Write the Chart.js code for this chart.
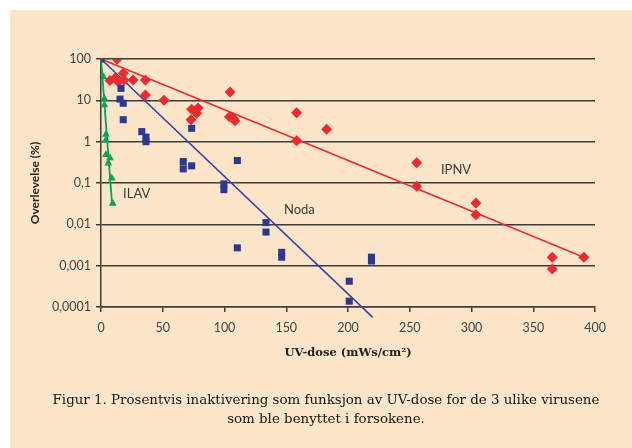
<!DOCTYPE html>
<html><head><meta charset="utf-8">
<script src="https://cdn.jsdelivr.net/npm/chart.js@4/dist/chart.umd.min.js"></script>
<style>
html,body{margin:0;padding:0;background:#fff;width:632px;height:448px;overflow:hidden}
#bg{position:absolute;left:10px;top:10px;width:622px;height:438px;background:#fde5ca}
#wrap{position:absolute;left:0;top:0;width:632px;height:448px}
#cap{position:absolute;left:0px;width:652px;top:390px;text-align:center;font-family:"DejaVu Serif",serif;font-size:13.4px;line-height:19px;color:#151515;white-space:nowrap}
</style></head><body>
<div id="bg"></div>
<div id="wrap"><canvas id="c" width="632" height="448"></canvas></div>
<div id="cap">Figur 1. Prosentvis inaktivering som funksjon av UV-dose for de 3 ulike virusene<br>som ble benyttet i forsokene.</div>
<script>
// ---- data ----
const ipnvDose = [13, 7.3, 11.3, 14, 18, 18.6, 26, 36, 36, 51, 73.4, 78.6, 77.5, 72.9, 104.5, 104, 108.5, 107, 158.4, 158.4, 182.7, 255.6, 255.6, 303.6, 303.6, 365.4, 365.4, 391];
const ipnvSurv = [98, 30, 34, 28, 45, 31, 31, 31, 13.5, 10, 6.1, 6.5, 4.9, 3.4, 16, 4.0, 3.2, 3.7, 5.0, 1.05, 2.0, 0.31, 0.083, 0.033, 0.017, 0.0016, 0.00083, 0.0016];
const nodaDose = [0, 16.2, 15.4, 18, 18, 33, 36.4, 36.4, 73.4, 66.6, 66.6, 73.4, 99.5, 99.5, 110.4, 133.6, 133.6, 110.4, 146.3, 146.3, 201, 201, 219, 219];
const nodaSurv = [100, 19.5, 10.7, 8.5, 3.4, 1.75, 1.29, 1.0, 2.1, 0.33, 0.22, 0.26, 0.095, 0.069, 0.35, 0.011, 0.0065, 0.0027, 0.0021, 0.0016, 0.00042, 0.000138, 0.0016, 0.0013];
const ilavDose = [0, 1.9, 2.7, 2.7, 4, 4, 4, 7.3, 5.9, 8.7, 9.5];
const ilavSurv = [100, 37, 11, 7.7, 1.5, 1.1, 0.48, 0.4, 0.3, 0.13, 0.032];
// trend lines (start / end)
const ipnvFitDose = [0, 391];
const ipnvFitSurv = [100, 0.0016];
const nodaFitDose = [0, 220];
const nodaFitSurv = [100, 0.000056];
const ilavFitDose = [0, 9];
const ilavFitSurv = [100, 0.03];
// labels
const seriesNames = ["IPNV", "Noda", "ILAV"];
const labelDose = [287.5, 160.6, 28.9];
const labelSurv = [0.21, 0.0225, 0.055];
// axis ticks
const yTickValues = [0.0001, 0.001, 0.01, 0.1, 1, 10, 100];
const yTickLabels = ["0,0001", "0,001", "0,01", "0,1", "1", "10", "100"];
const xMin = 0, xMax = 400, xStep = 50;
const yTitle = "Overlevelse (%)";
const xTitle = "UV-dose (mWs/cm\u00B2)";

const RED = "#ec2a30", BLUE = "#2b3994", GREEN = "#00a651";
const pts = (xs, ys) => xs.map((x, i) => ({x, y: ys[i]}));
const GRID = "#3c3c3c";

const labelPlugin = {
  id: "seriesLabels",
  afterDatasetsDraw(chart) {
    const ctx = chart.ctx, xs = chart.scales.x, ys = chart.scales.y;
    ctx.save();
    ctx.font = "13px Lato";
    ctx.fillStyle = "#3a3a3a";
    ctx.textAlign = "center";
    ctx.textBaseline = "middle";
    seriesNames.forEach((n, i) => {
      ctx.fillText(n, xs.getPixelForValue(labelDose[i]), ys.getPixelForValue(labelSurv[i]));
    });
    ctx.restore();
  }
};

new Chart(document.getElementById("c"), {
  type: "scatter",
  data: {
    datasets: [
      {label: "Noda", data: pts(nodaDose, nodaSurv), pointStyle: "rect", pointRadius: 5, backgroundColor: BLUE, borderColor: BLUE, borderWidth: 0},
      {label: "IPNV", data: pts(ipnvDose, ipnvSurv), pointStyle: "rectRot", pointRadius: 5.5, backgroundColor: RED, borderColor: RED, borderWidth: 0},
      {label: "ILAV", data: pts(ilavDose, ilavSurv), pointStyle: "triangle", pointRadius: 4.5, backgroundColor: GREEN, borderColor: GREEN, borderWidth: 0},
      {label: "IPNV fit", data: pts(ipnvFitDose, ipnvFitSurv), showLine: true, pointRadius: 0, borderColor: RED, borderWidth: 1.6, clip: false},
      {label: "Noda fit", data: pts(nodaFitDose, nodaFitSurv), showLine: true, pointRadius: 0, borderColor: "#3d3fa0", borderWidth: 1.6, clip: false},
      {label: "ILAV fit", data: pts(ilavFitDose, ilavFitSurv), showLine: true, pointRadius: 0, borderColor: GREEN, borderWidth: 1.8, clip: false}
    ]
  },
  options: {
    responsive: false,
    animation: false,
    layout: {padding: {left: 0, right: 37, top: 59, bottom: 0}},
    plugins: {legend: {display: false}, tooltip: {enabled: false}},
    scales: {
      x: {
        type: "linear", min: xMin, max: xMax,
        ticks: {stepSize: xStep, color: "#444", font: {family: "Lato", size: 12.5}, padding: 8, maxRotation: 0},
        grid: {drawOnChartArea: false, drawTicks: true, tickLength: 5, color: GRID, lineWidth: 1.5},
        border: {display: true, color: GRID, width: 1.5},
        title: {display: true, text: xTitle, color: "#222", font: {family: "DejaVu Serif", size: 11.5, weight: "bold"}, padding: {top: 0, bottom: 88}},
        afterFit(s) { s.height = 448 - 307; }
      },
      y: {
        type: "logarithmic", min: 0.0001, max: 100,
        afterBuildTicks(s) { s.ticks = yTickValues.map(v => ({value: v})); },
        ticks: {color: "#444", font: {family: "Lato", size: 12.5}, padding: 5, callback: (v, i) => yTickLabels[i]},
        grid: {color: GRID, lineWidth: 1.5, tickLength: 5},
        border: {display: true, color: GRID, width: 1.5},
        title: {display: true, text: yTitle, color: "#222", font: {family: "Lato", size: 12, weight: "bold"}, padding: {top: 28, bottom: 0}},
        afterFit(s) { s.width = 101; }
      }
    }
  },
  plugins: [labelPlugin]
});
</script>
</body></html>
